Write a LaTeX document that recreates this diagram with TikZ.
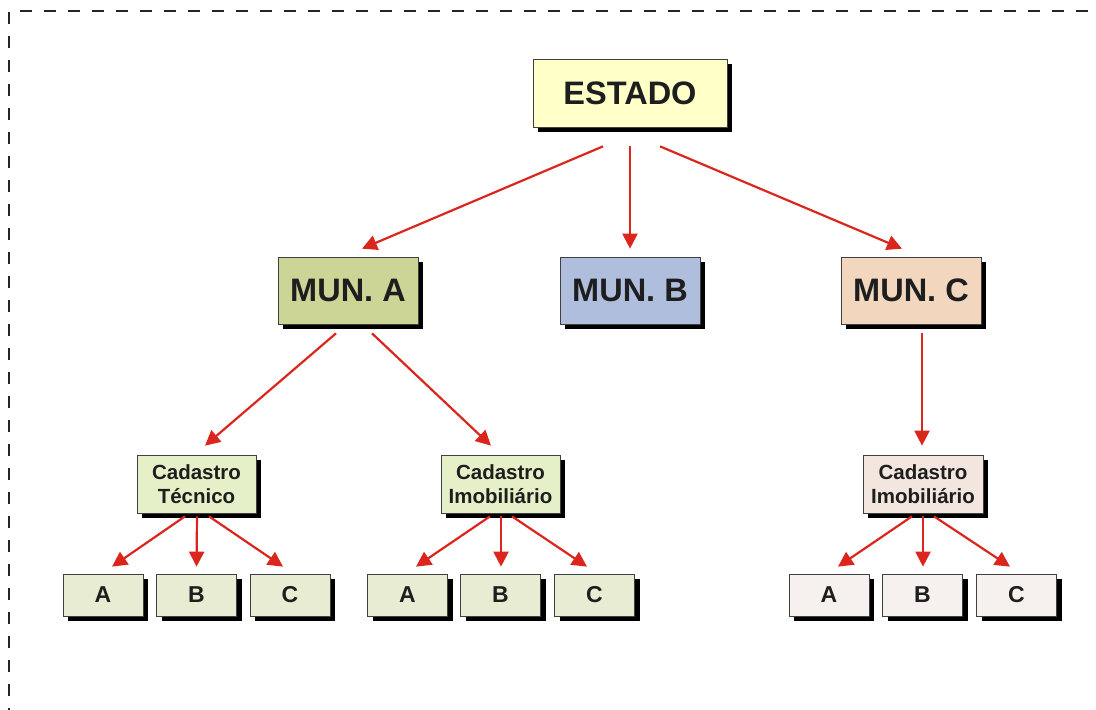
\documentclass[tikz,border=0pt]{standalone}
\usepackage{fontspec}
\setmainfont{Liberation Sans}
\usetikzlibrary{shadows,arrows.meta}
\definecolor{cEst}{RGB}{255,255,200}
\definecolor{cMunA}{RGB}{204,212,150}
\definecolor{cMunB}{RGB}{176,190,222}
\definecolor{cMunC}{RGB}{242,214,190}
\definecolor{cCadG}{RGB}{230,240,200}
\definecolor{cLeafG}{RGB}{232,236,210}
\definecolor{cCadP}{RGB}{242,230,222}
\definecolor{cLeafP}{RGB}{246,241,238}
\definecolor{cArrow}{RGB}{218,38,28}
\definecolor{cText}{RGB}{30,30,30}
\tikzset{
  box/.style={draw=black!75, line width=0.7pt, inner sep=0pt, align=center,
    text=cText, font=\bfseries,
    drop shadow={shadow xshift=5pt, shadow yshift=-5pt, fill=black, opacity=1}},
  bigbox/.style={box, minimum width=140pt, minimum height=67pt, font=\fontsize{32.5}{36}\selectfont\bfseries},
  cadbox/.style={box, minimum width=119pt, minimum height=58pt, font=\fontsize{20.5}{24}\selectfont\bfseries},
  leafbox/.style={box, minimum width=80pt, minimum height=42pt, font=\fontsize{23}{26}\selectfont\bfseries},
  arr/.style={draw=cArrow, line width=2.2pt, -{Triangle[length=15pt,width=15pt]}, fill=cArrow},
}
\begin{document}
\begin{tikzpicture}[x=1pt,y=-1pt]
\useasboundingbox (0,0) rectangle (1096,710);
\clip (0,0) rectangle (1096,710);
\draw[line width=2.2pt, dash pattern=on 12pt off 12pt, black!85] (9,720) -- (9,11) -- (1110,11);

\node[bigbox, fill=cEst, minimum width=194pt, minimum height=68pt] (est) at (630,93) {ESTADO};
\node[bigbox, fill=cMunA] (muna) at (348,290.5) {MUN. A};
\node[bigbox, fill=cMunB] (munb) at (630,290.5) {MUN. B};
\node[bigbox, fill=cMunC] (munc) at (911,290.5) {MUN. C};

\node[cadbox, fill=cCadG] (ct) at (196.5,484) {Cadastro\\Técnico};
\node[cadbox, fill=cCadG] (ci) at (500.5,484) {Cadastro\\Imobiliário};
\node[cadbox, fill=cCadP, minimum width=120pt] (cc) at (923,484) {Cadastro\\Imobiliário};

\node[leafbox, fill=cLeafG] (ta) at (103,595) {A};
\node[leafbox, fill=cLeafG] (tb) at (196.5,595) {B};
\node[leafbox, fill=cLeafG] (tc) at (290,595) {C};
\node[leafbox, fill=cLeafG] (ia) at (407.5,595) {A};
\node[leafbox, fill=cLeafG] (ib) at (500.5,595) {B};
\node[leafbox, fill=cLeafG] (ic) at (594.5,595) {C};
\node[leafbox, fill=cLeafP] (ca) at (829,595) {A};
\node[leafbox, fill=cLeafP] (cb) at (922.5,595) {B};
\node[leafbox, fill=cLeafP] (ccc) at (1016.5,595) {C};

\draw[arr] ([xshift=-27pt,yshift=-19pt]est.south) -- ([xshift=14pt,yshift=8pt]muna.north);
\draw[arr] ([yshift=-19pt]est.south) -- ([yshift=8pt]munb.north);
\draw[arr] ([xshift=30pt,yshift=-19pt]est.south) -- ([xshift=-9pt,yshift=8pt]munc.north);

\draw[arr] ([xshift=-12pt,yshift=-9pt]muna.south) -- ([xshift=8.5pt,yshift=9pt]ct.north);
\draw[arr] ([xshift=24pt,yshift=-9pt]muna.south) -- ([xshift=-9.5pt,yshift=9pt]ci.north);
\draw[arr] ([xshift=11pt,yshift=-9pt]munc.south) -- ([xshift=-1pt,yshift=9pt]cc.north);

\draw[arr] ([xshift=-11.5pt,yshift=-3pt]ct.south) -- ([xshift=9pt,yshift=7pt]ta.north);
\draw[arr] ([xshift=0.5pt,yshift=-3pt]ct.south) -- ([yshift=7pt]tb.north);
\draw[arr] ([xshift=12.5pt,yshift=-3pt]ct.south) -- ([xshift=-7pt,yshift=7pt]tc.north);

\draw[arr] ([xshift=-10.5pt,yshift=-3pt]ci.south) -- ([xshift=8.5pt,yshift=7pt]ia.north);
\draw[arr] ([xshift=0.5pt,yshift=-3pt]ci.south) -- ([xshift=0.5pt,yshift=7pt]ib.north);
\draw[arr] ([xshift=11.5pt,yshift=-3pt]ci.south) -- ([xshift=-7.5pt,yshift=7pt]ic.north);

\draw[arr] ([xshift=-11pt,yshift=-3pt]cc.south) -- ([xshift=9pt,yshift=7pt]ca.north);
\draw[arr] ([xshift=0pt,yshift=-3pt]cc.south) -- ([xshift=0.5pt,yshift=7pt]cb.north);
\draw[arr] ([xshift=11pt,yshift=-3pt]cc.south) -- ([xshift=-6.5pt,yshift=7pt]ccc.north);
\end{tikzpicture}
\end{document}
